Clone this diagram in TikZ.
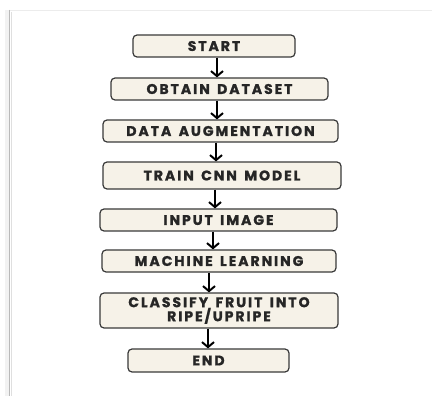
\documentclass[tikz,border=0pt]{standalone}
\usepackage{fontspec}
\setmainfont{Poppins}[UprightFont=* Bold, BoldFont=* Bold]
\newfontfamily\boxfont{Poppins Bold}[FakeBold=1.2, LetterSpace=14, WordSpace=1.5]
\usetikzlibrary{arrows.meta}
\definecolor{boxfill}{HTML}{F6F2E8}
\definecolor{boxline}{HTML}{3A3A3A}
\tikzset{
  stepbox/.style={draw=boxline, line width=1.2pt, fill=boxfill, rounded corners=4pt,
    inner sep=0pt, align=center, font=\boxfont\fontsize{14}{14}\selectfont, text=black!85},
  flowarrow/.style={line width=2.4pt, -{Straight Barb[length=5pt,width=12pt,line width=2pt]}, black}
}
\begin{document}
\begin{tikzpicture}[x=1pt,y=-1pt]
\useasboundingbox (0,0) rectangle (432,396);
\fill[white] (0,0) rectangle (432,396);
% frame with shadow
\fill[gray!10] (5,10) rectangle (9,396);
\draw[gray!15, line width=1.5pt] (9,10.5) -- (432,10.5);
\draw[gray!55, line width=1.6pt] (9.5,10) -- (9.5,396);
\draw[gray!25, line width=1pt] (11,12) -- (11,396);

\node[stepbox, minimum width=162pt, minimum height=22pt] (start) at (214,46) {START};
\node[stepbox, minimum width=217pt, minimum height=22pt] (obtain) at (219.5,89) {OBTAIN DATASET};
\node[stepbox, minimum width=235pt, minimum height=22pt] (augment) at (220.5,131) {DATA AUGMENTATION};
\node[stepbox, minimum width=238pt, minimum height=27pt] (train) at (222,175.5) {TRAIN CNN MODEL};
\node[stepbox, minimum width=237pt, minimum height=22pt] (input) at (218.5,220) {INPUT IMAGE};
\node[stepbox, minimum width=234pt, minimum height=22pt] (ml) at (219,261) {MACHINE LEARNING};
\node[stepbox, minimum width=238pt, minimum height=35pt] (classify) at (219,310.5) {CLASSIFY FRUIT INTO\\RIPE/UPRIPE};
\node[stepbox, minimum width=161pt, minimum height=23pt] (end) at (208.5,360.5) {END};

\coordinate (c1) at (217,0);
\coordinate (c2) at (217,0);
\coordinate (c3) at (216,0);
\coordinate (c4) at (215,0);
\coordinate (c5) at (213,0);
\coordinate (c6) at (209,0);
\coordinate (c7) at (208,0);
\draw[flowarrow] (start.south -| c1) -- (obtain.north -| c1);
\draw[flowarrow] (obtain.south -| c2) -- (augment.north -| c2);
\draw[flowarrow] (augment.south -| c3) -- (train.north -| c3);
\draw[flowarrow] (train.south -| c4) -- (input.north -| c4);
\draw[flowarrow] (input.south -| c5) -- (ml.north -| c5);
\draw[flowarrow] (ml.south -| c6) -- (classify.north -| c6);
\draw[flowarrow] (classify.south -| c7) -- (end.north -| c7);
\end{tikzpicture}
\end{document}
